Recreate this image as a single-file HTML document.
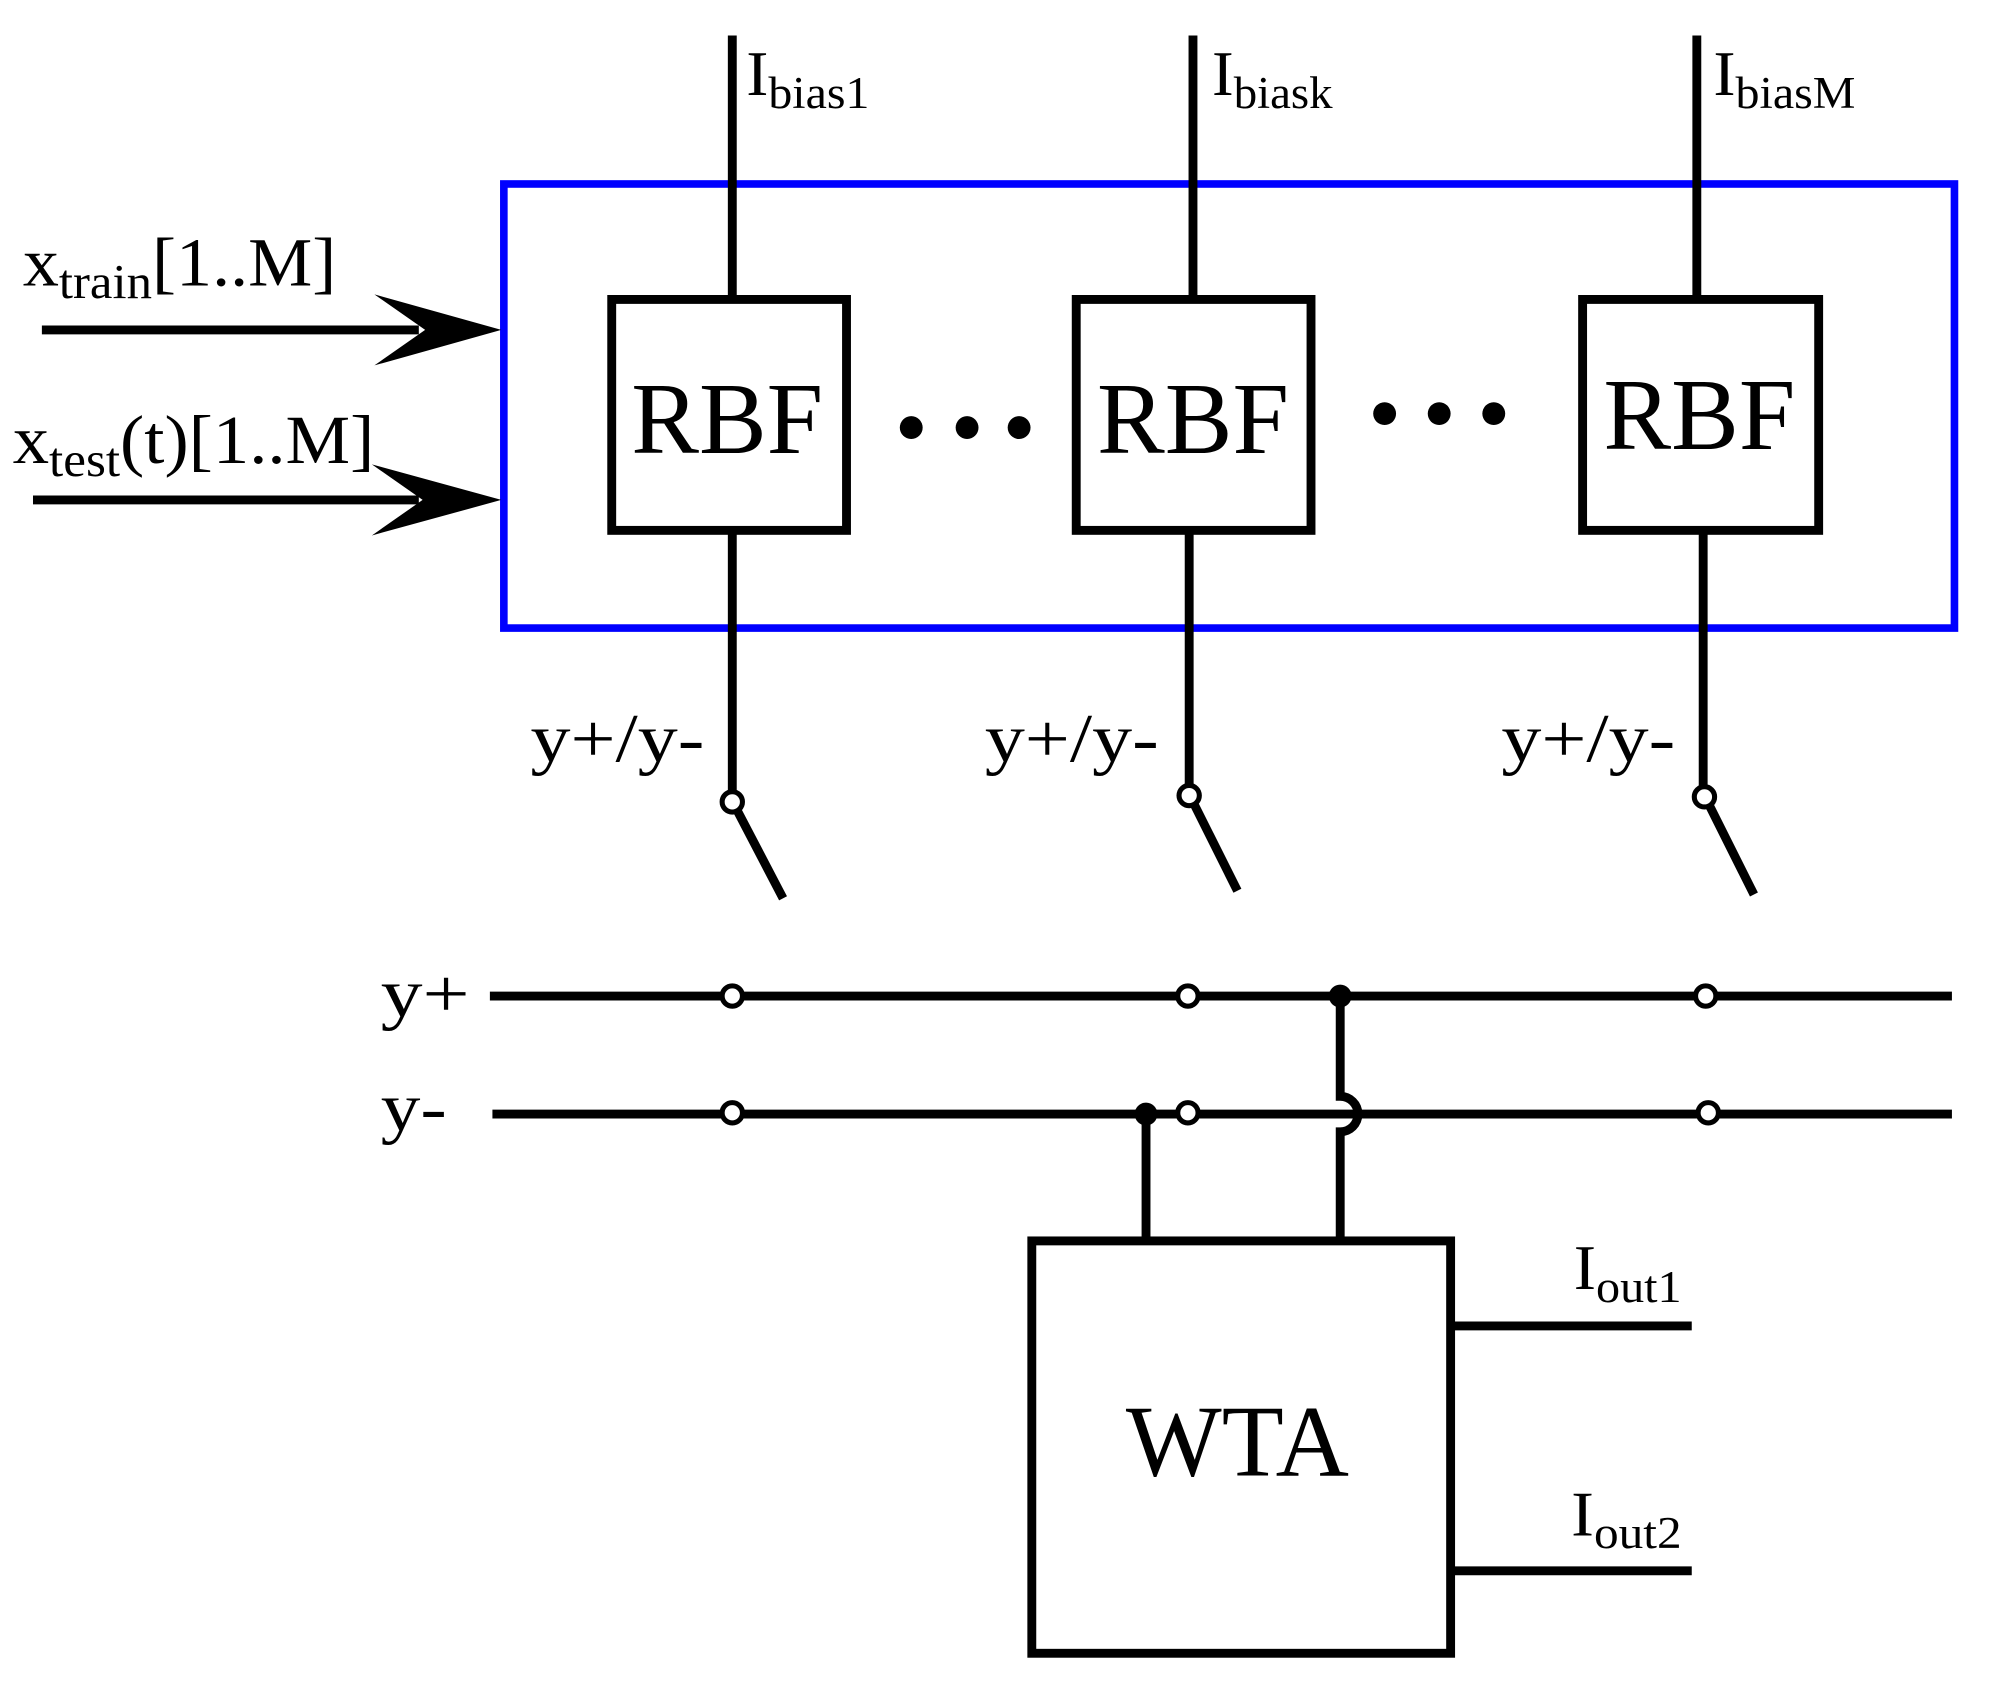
<!DOCTYPE html>
<html><head><meta charset="utf-8"><style>html,body{margin:0;padding:0;background:#fff}svg{display:block}</style></head>
<body>
<svg width="1990" height="1685" viewBox="0 0 1568 1328" preserveAspectRatio="none" xmlns="http://www.w3.org/2000/svg" font-family="Liberation Serif, serif">
<rect x="0" y="0" width="1568" height="1328" fill="#fff"/>
<rect x="397" y="145" width="1143" height="350" fill="none" stroke="#0000ff" stroke-width="6"/>
<g stroke="#000" stroke-width="7" fill="none">
<line x1="577" y1="28" x2="577" y2="236"/>
<line x1="940" y1="28" x2="940" y2="236"/>
<line x1="1337" y1="28" x2="1337" y2="236"/>
<rect x="482" y="236" width="185" height="182"/>
<rect x="848" y="236" width="185" height="182"/>
<rect x="1247" y="236" width="186" height="182"/>
<line x1="577" y1="418" x2="577" y2="624"/>
<line x1="937" y1="418" x2="937" y2="619"/>
<line x1="1342" y1="418" x2="1342" y2="620"/>
<line x1="581" y1="639" x2="617" y2="708"/>
<line x1="941" y1="634" x2="975" y2="702"/>
<line x1="1347" y1="635" x2="1382" y2="705"/>
<line x1="386" y1="785" x2="1538" y2="785"/>
<line x1="388" y1="878" x2="1538" y2="878"/>
<path d="M1056 785 V864 A14 14 0 0 1 1056 892 V975"/>
<line x1="903" y1="878" x2="903" y2="975"/>
<rect x="813" y="978" width="330" height="325"/>
<line x1="1143" y1="1045" x2="1333" y2="1045"/>
<line x1="1143" y1="1238" x2="1333" y2="1238"/>
<line x1="33" y1="260" x2="330" y2="260"/>
<line x1="26" y1="394" x2="330" y2="394"/>
</g>
<g fill="#000">
<polygon points="395,260 295,232 335,260 295,288"/>
<polygon points="395,394 293,366 333,394 293,422"/>
<circle cx="718" cy="337" r="9"/><circle cx="762" cy="337" r="9"/><circle cx="803" cy="337" r="9"/>
<circle cx="1091" cy="326" r="9"/><circle cx="1134" cy="326" r="9"/><circle cx="1177" cy="326" r="9"/>
<circle cx="1056" cy="785" r="9"/><circle cx="903" cy="878" r="9"/>
</g>
<g fill="#fff" stroke="#000" stroke-width="4">
<circle cx="577" cy="632" r="8"/><circle cx="937" cy="627" r="8"/><circle cx="1343" cy="628" r="8"/>
<circle cx="577" cy="785" r="8"/><circle cx="936" cy="785" r="8"/><circle cx="1344" cy="785" r="8"/>
<circle cx="577" cy="877" r="8"/><circle cx="936" cy="877" r="8"/><circle cx="1346" cy="877" r="8"/>
</g>
<g fill="#000">
<text x="588" y="75" font-size="50" textLength="97" lengthAdjust="spacingAndGlyphs">I<tspan font-size="36" dy="10">bias1</tspan></text>
<text x="955" y="75" font-size="50" textLength="95" lengthAdjust="spacingAndGlyphs">I<tspan font-size="36" dy="10">biask</tspan></text>
<text x="1350" y="75" font-size="50" textLength="112" lengthAdjust="spacingAndGlyphs">I<tspan font-size="36" dy="10">biasM</tspan></text>
<text x="18" y="225" font-size="54" textLength="247" lengthAdjust="spacingAndGlyphs">x<tspan font-size="38" dy="10">train</tspan><tspan dy="-10">[1..M]</tspan></text>
<text x="10" y="365" font-size="54" textLength="285" lengthAdjust="spacingAndGlyphs">x<tspan font-size="38" dy="10">test</tspan><tspan dy="-10">(t)[1..M]</tspan></text>
<text x="573" y="357" font-size="80" text-anchor="middle">RBF</text>
<text x="940" y="357" font-size="80" text-anchor="middle">RBF</text>
<text x="1339" y="354" font-size="80" text-anchor="middle">RBF</text>
<text x="418" y="600" font-size="54" textLength="137" lengthAdjust="spacingAndGlyphs">y+/y-</text>
<text x="776" y="600" font-size="54" textLength="137" lengthAdjust="spacingAndGlyphs">y+/y-</text>
<text x="1183" y="600" font-size="54" textLength="137" lengthAdjust="spacingAndGlyphs">y+/y-</text>
<text x="300" y="801" font-size="54" textLength="70" lengthAdjust="spacingAndGlyphs">y+</text>
<text x="300" y="891" font-size="54" textLength="52" lengthAdjust="spacingAndGlyphs">y-</text>
<text x="975" y="1163" font-size="80" text-anchor="middle">WTA</text>
<text x="1240" y="1016" font-size="50" textLength="85" lengthAdjust="spacingAndGlyphs">I<tspan font-size="36" dy="10">out1</tspan></text>
<text x="1238" y="1210" font-size="50" textLength="87" lengthAdjust="spacingAndGlyphs">I<tspan font-size="36" dy="10">out2</tspan></text>
</g>
</svg>
</body></html>
